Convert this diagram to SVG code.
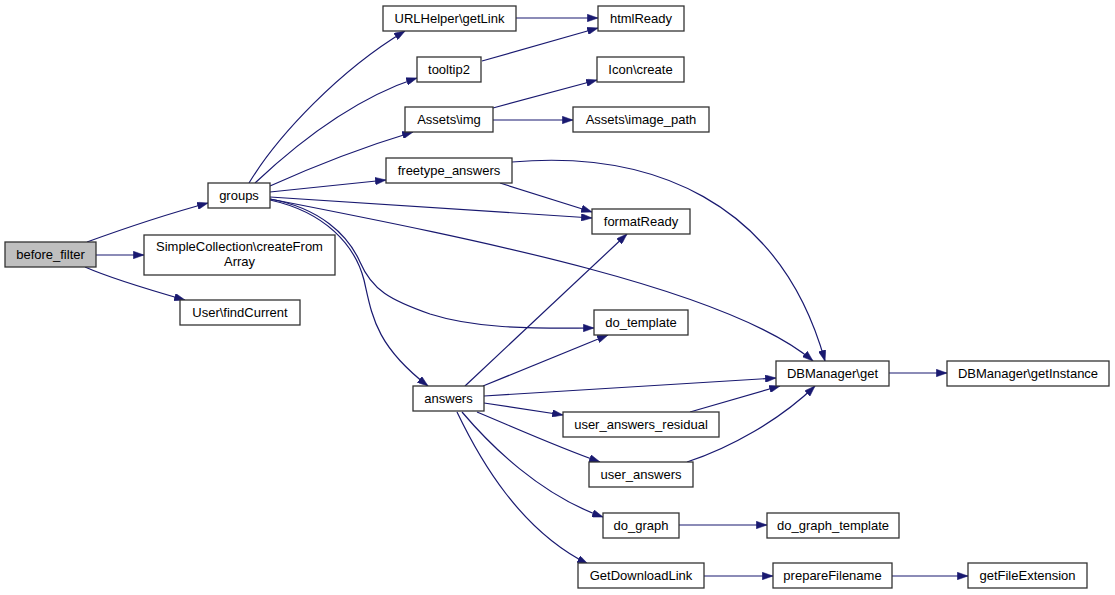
<svg xmlns="http://www.w3.org/2000/svg" width="1115" height="595" viewBox="0 0 1115 595">
<style>
.n rect{fill:#ffffff;stroke:#333333;stroke-width:1.3}
.n.root rect{fill:#bfbfbf}
.n text{font-family:"Liberation Sans",Arial,sans-serif;font-size:13px;fill:#000;text-anchor:middle}
#edges path{fill:none;stroke:#191970;stroke-width:1.2;marker-end:url(#arr)}
</style>
<defs>
<marker id="arr" viewBox="0 0 10 7" refX="10" refY="3.5" markerWidth="11" markerHeight="7.5" markerUnits="userSpaceOnUse" orient="auto">
<path d="M0,0 L10,3.5 L0,7 z" fill="#191970" stroke="#191970" stroke-width="0.5"/>
</marker>
</defs>
<rect x="0" y="0" width="1115" height="595" fill="#ffffff"/>
<g id="edges">
<path d="M87,242 C120,230 160,216 208,203"/>
<path d="M96,255 L144,255"/>
<path d="M85,267 C110,278 150,290 185,300"/>
<path d="M249,183 C278,135 340,70 405,31"/>
<path d="M255,183 C290,150 350,100 417,78"/>
<path d="M270,186 C310,168 360,148 413,132"/>
<path d="M270,192 L386,180"/>
<path d="M270,197 L592,218"/>
<path d="M270,199 C480,240 730,290 813,361"/>
<path d="M270,199 C320,208 348,235 360,262 C372,290 390,300 430,314 C480,330 540,328 594,328"/>
<path d="M270,200 C325,212 355,245 364,280 C372,315 375,345 428,386"/>
<path d="M482,61 L598,28"/>
<path d="M516,18 L598,18"/>
<path d="M493,108 L597,80"/>
<path d="M493,120 L573,120"/>
<path d="M500,183 L592,212"/>
<path d="M512,162 C650,150 780,200 825,361"/>
<path d="M465,386 L627,234"/>
<path d="M483,386 L608,335"/>
<path d="M484,396 L776,378"/>
<path d="M484,403 L563,415"/>
<path d="M477,412 C520,430 560,448 600,462"/>
<path d="M462,412 C490,445 540,495 603,517"/>
<path d="M457,412 C480,460 520,530 588,564"/>
<path d="M690,412 L780,386"/>
<path d="M687,462 C730,448 780,420 815,386"/>
<path d="M889,373 L947,373"/>
<path d="M679,525 L767,525"/>
<path d="M704,576 L773,576"/>
<path d="M892,576 L968,576"/>
</g>
<g id="before_filter" class="n root"><rect x="5" y="242" width="91" height="25"/><text x="50.5" y="259">before_filter</text></g>
<g id="groups" class="n"><rect x="208" y="183" width="62" height="25"/><text x="239" y="200">groups</text></g>
<g id="SimpleCollection_createFromArray" class="n"><rect x="144" y="235" width="191" height="40"/><text x="239.5" y="251">SimpleCollection\createFrom</text><text x="239.5" y="266">Array</text></g>
<g id="User_findCurrent" class="n"><rect x="180" y="300" width="120" height="25"/><text x="240" y="317">User\findCurrent</text></g>
<g id="URLHelper_getLink" class="n"><rect x="383" y="6" width="133" height="25"/><text x="449.5" y="23">URLHelper\getLink</text></g>
<g id="htmlReady" class="n"><rect x="598" y="6" width="86" height="25"/><text x="641" y="23">htmlReady</text></g>
<g id="tooltip2" class="n"><rect x="417" y="57" width="64" height="25"/><text x="449" y="74">tooltip2</text></g>
<g id="Icon_create" class="n"><rect x="597" y="57" width="87" height="25"/><text x="640.5" y="74">Icon\create</text></g>
<g id="Assets_img" class="n"><rect x="405" y="107" width="88" height="25"/><text x="449" y="124">Assets\img</text></g>
<g id="Assets_image_path" class="n"><rect x="573" y="107" width="136" height="25"/><text x="641" y="124">Assets\image_path</text></g>
<g id="freetype_answers" class="n"><rect x="386" y="158" width="126" height="25"/><text x="449" y="175">freetype_answers</text></g>
<g id="formatReady" class="n"><rect x="592" y="209" width="98" height="25"/><text x="641" y="226">formatReady</text></g>
<g id="do_template" class="n"><rect x="594" y="310" width="94" height="25"/><text x="641" y="327">do_template</text></g>
<g id="answers" class="n"><rect x="413" y="386" width="71" height="25"/><text x="448.5" y="403">answers</text></g>
<g id="user_answers_residual" class="n"><rect x="563" y="412" width="156" height="25"/><text x="641" y="429">user_answers_residual</text></g>
<g id="user_answers" class="n"><rect x="589" y="462" width="104" height="25"/><text x="641" y="479">user_answers</text></g>
<g id="do_graph" class="n"><rect x="603" y="513" width="76" height="25"/><text x="641" y="530">do_graph</text></g>
<g id="GetDownloadLink" class="n"><rect x="578" y="563" width="126" height="25"/><text x="641" y="580">GetDownloadLink</text></g>
<g id="DBManager_get" class="n"><rect x="776" y="361" width="113" height="25"/><text x="832.5" y="378">DBManager\get</text></g>
<g id="DBManager_getInstance" class="n"><rect x="947" y="361" width="162" height="25"/><text x="1028" y="378">DBManager\getInstance</text></g>
<g id="do_graph_template" class="n"><rect x="767" y="513" width="132" height="25"/><text x="833" y="530">do_graph_template</text></g>
<g id="prepareFilename" class="n"><rect x="773" y="563" width="119" height="25"/><text x="832.5" y="580">prepareFilename</text></g>
<g id="getFileExtension" class="n"><rect x="968" y="563" width="119" height="25"/><text x="1027.5" y="580">getFileExtension</text></g>
</svg>
